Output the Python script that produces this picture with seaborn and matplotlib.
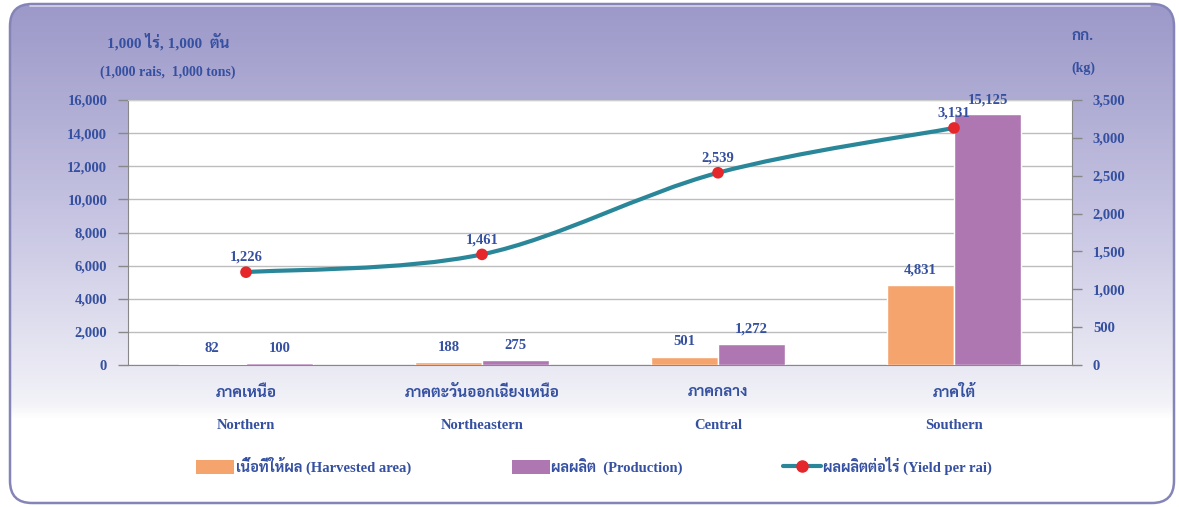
import numpy as np
import pandas as pd
import seaborn as sns
import matplotlib
matplotlib.use('Agg')
import matplotlib.pyplot as plt
from matplotlib.path import Path
from matplotlib.patches import PathPatch, FancyBboxPatch, Patch
from matplotlib.lines import Line2D
from matplotlib.colors import LinearSegmentedColormap

### data
regions_th = ['ภาคเหนือ', 'ภาคตะวันออกเฉียงเหนือ', 'ภาคกลาง', 'ภาคใต้']
regions_en = ['Northern', 'Northeastern', 'Central', 'Southern']
harvested_area = [82, 188, 501, 4831]
production = [100, 275, 1272, 15125]
yield_per_rai = [1226, 1461, 2539, 3131]
left_ticks = [0, 2000, 4000, 6000, 8000, 10000, 12000, 14000, 16000]
right_ticks = [0, 500, 1000, 1500, 2000, 2500, 3000, 3500]

c_area = '#F6A46E'
c_prod = '#AE77B1'
c_line = '#2A8799'
c_dot = '#E5262B'
c_text = '#3550A0'
fam = ['Liberation Serif', 'Norasi', 'Sarabun', 'DejaVu Sans']

sns.set_style('white')
plt.rcParams['font.family'] = fam
plt.rcParams['font.weight'] = 'bold'

fig = plt.figure(figsize=(11.79, 5.07), dpi=100)

### gradient panel behind everything
bg = fig.add_axes([0, 0, 1, 1], zorder=-10)
bg.set_xlim(0, 1179)
bg.set_ylim(507, 0)
bg.axis('off')
cmap = LinearSegmentedColormap.from_list('bg', [(0, '#9C98C9'), (0.45, '#C9C7E3'),
                                                (0.8, '#F2F2F8'), (0.83, '#FFFFFF'), (1, '#FFFFFF')])
grad = np.linspace(0, 1, 500).reshape(-1, 1)
im = bg.imshow(grad, cmap=cmap, extent=[9, 1175, 504, 4], aspect='auto')
panel = FancyBboxPatch((10, 4), 1164, 499, boxstyle='round,pad=0,rounding_size=22',
                       facecolor='none', edgecolor='#8584B8', lw=1.8)
bg.add_patch(panel)
im.set_clip_path(panel)
bg.plot([30, 1150], [6, 6], color='white', lw=1.2, alpha=0.6)

### main axes
ax = fig.add_axes([128 / 1179, 1 - 365 / 507, 944 / 1179, 265 / 507])
ax.set_facecolor('white')
df = pd.DataFrame({
    'region': regions_en * 2,
    'value': harvested_area + production,
    'series': ['area'] * 4 + ['prod'] * 4,
})
sns.barplot(data=df, x='region', y='value', hue='series', order=regions_en,
            palette={'area': c_area, 'prod': c_prod}, width=0.57, gap=0,
            saturation=1, ax=ax, legend=False, zorder=3)
ax.set_ylim(0, 16000)
ax.set_xlim(-0.5, 3.5)
ax.set_yticks(left_ticks)
ax.set_yticklabels([f'{v:,}' for v in left_ticks], color=c_text, fontsize=10.5, fontweight='bold')
ax.yaxis.grid(True, color='#BDBDBD', lw=1, zorder=0)
ax.set_axisbelow(True)
ax.set_xlabel('')
ax.set_ylabel('')
ax.set_xticks([0.5, 1.5, 2.5])
ax.set_xticklabels([])
ax.tick_params(axis='x', direction='out', length=7, color='#888888', width=1)
ax.tick_params(axis='y', direction='out', length=7, color='#888888', width=1, pad=8)
for s in ['left', 'bottom', 'right']:
    ax.spines[s].set_color('#888888')
ax.spines['top'].set_color('#CCCCCC')

# bar value labels
for cont, vals in zip(ax.containers, [harvested_area, production]):
    ax.bar_label(cont, labels=[f'{v:,}' for v in vals], padding=6,
                 color=c_text, fontsize=10.5, fontweight='bold')

# category labels (Thai + English)
for i, (th, en) in enumerate(zip(regions_th, regions_en)):
    ax.text(i, -0.105, th, transform=ax.get_xaxis_transform(), ha='center', va='center',
            color=c_text, fontsize=11, fontweight='bold', family=fam)
    ax.text(i, -0.228, en, transform=ax.get_xaxis_transform(), ha='center', va='center',
            color=c_text, fontsize=10.5, fontweight='bold', family=fam)

### yield line on the right axis
ax2 = ax.twinx()
ax2.set_ylim(0, 3500)
ax2.set_yticks(right_ticks)
ax2.set_yticklabels([f'{v:,}' for v in right_ticks], color=c_text, fontsize=10.5, fontweight='bold')
ax2.tick_params(axis='y', direction='out', length=7, color='#888888', width=1, pad=8)
for s in ax2.spines.values():
    s.set_visible(False)

# smooth curve (Catmull-Rom as cubic bezier segments through the points)
xs = np.arange(len(yield_per_rai), dtype=float)
pts = np.column_stack([xs, np.array(yield_per_rai, dtype=float)])
verts = [tuple(pts[0])]
codes = [Path.MOVETO]
for k in range(len(pts) - 1):
    p0 = pts[k - 1] if k > 0 else pts[k]
    p1, p2 = pts[k], pts[k + 1]
    p3 = pts[k + 2] if k + 2 < len(pts) else pts[k + 1]
    verts += [tuple(p1 + (p2 - p0) / 6), tuple(p2 - (p3 - p1) / 6), tuple(p2)]
    codes += [Path.CURVE4] * 3
ax2.add_patch(PathPatch(Path(verts, codes), facecolor='none', edgecolor=c_line,
                        lw=3, capstyle='round', zorder=4))
sns.scatterplot(x=xs, y=yield_per_rai, ax=ax2, color=c_dot, s=70, edgecolor='none',
                zorder=5, legend=False)
for x, v in zip(xs, yield_per_rai):
    ax2.annotate(f'{v:,}', (x, v), xytext=(0, 6), textcoords='offset points',
                 ha='center', va='bottom', color=c_text, fontsize=10.5, fontweight='bold')
ax2.set_ylabel('')

### axis unit titles
fig.text(168 / 1179, 1 - 42 / 507, '1,000 ไร่, 1,000  ตัน', ha='center', va='center',
         color=c_text, fontsize=11, fontweight='bold', family=fam)
fig.text(168 / 1179, 1 - 72 / 507, '(1,000 rais,  1,000 tons)', ha='center', va='center',
         color=c_text, fontsize=10, fontweight='bold', family=fam)
fig.text(1083 / 1179, 1 - 37 / 507, 'กก.', ha='center', va='center',
         color=c_text, fontsize=11, fontweight='bold', family=fam)
fig.text(1083 / 1179, 1 - 68 / 507, '(kg)', ha='center', va='center',
         color=c_text, fontsize=10, fontweight='bold', family=fam)

### legend
handles = [
    Patch(facecolor=c_area, edgecolor='none'),
    Patch(facecolor=c_prod, edgecolor='none'),
    Line2D([], [], color=c_line, lw=3, marker='o', markersize=8,
           markerfacecolor=c_dot, markeredgecolor=c_dot),
]
labels = ['เนื้อที่ให้ผล (Harvested area)', 'ผลผลิต  (Production)', 'ผลผลิตต่อไร่ (Yield per rai)']
leg = fig.legend(handles, labels, loc='center', bbox_to_anchor=(594 / 1179, 1 - 466 / 507),
                 ncol=3, frameon=False, columnspacing=6.9, handlelength=2.6,
                 handleheight=1.1, handletextpad=0.1,
                 prop={'family': fam, 'size': 10.5, 'weight': 'bold'})
for t in leg.get_texts():
    t.set_color(c_text)

fig.savefig('out.png', dpi=100)
